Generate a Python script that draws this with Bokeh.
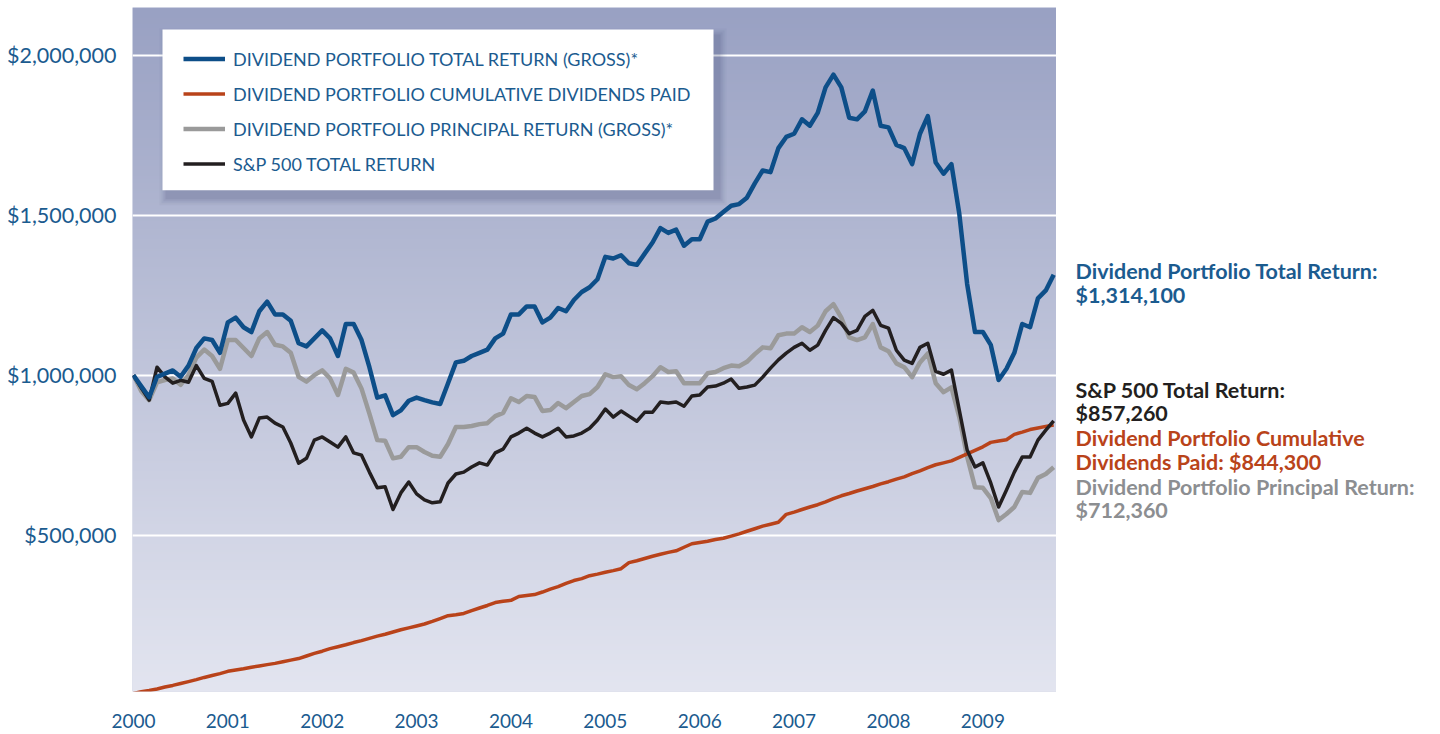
import numpy as np
from bokeh.plotting import figure
from bokeh.layouts import row
from bokeh.models import (FixedTicker, NumeralTickFormatter, Legend, LegendItem,
                          Range1d)
from bokeh.core.properties import value
from bokeh.embed import file_html
from bokeh.resources import INLINE

# ---------------- data (monthly, Jan 2000 .. Oct 2009) ----------------
START_YEAR = 2000
N_MONTHS = 118
years = [START_YEAR + i / 12 for i in range(N_MONTHS)]

total_return = [
    1000000, 965000, 931000, 995000, 1005000, 1015000, 995000, 1030000, 1085000, 1115000,
    1110000, 1070000, 1165000, 1180000, 1150000, 1135000, 1200000, 1230000, 1190000, 1190000,
    1170000, 1100000, 1090000, 1115000, 1140000, 1115000, 1060000, 1160000, 1160000, 1110000,
    1025000, 930000, 937000, 875000, 890000, 920000, 930000, 922000, 915000, 910000,
    975000, 1040000, 1045000, 1060000, 1070000, 1080000, 1115000, 1130000, 1190000, 1190000,
    1215000, 1215000, 1165000, 1180000, 1210000, 1200000, 1235000, 1260000, 1275000, 1300000,
    1370000, 1365000, 1375000, 1350000, 1345000, 1380000, 1415000, 1460000, 1445000, 1455000,
    1405000, 1425000, 1425000, 1480000, 1490000, 1510000, 1530000, 1535000, 1555000, 1600000,
    1640000, 1635000, 1710000, 1745000, 1755000, 1800000, 1780000, 1820000, 1900000, 1940000,
    1900000, 1805000, 1800000, 1825000, 1890000, 1780000, 1775000, 1720000, 1710000, 1660000,
    1755000, 1810000, 1665000, 1630000, 1660000, 1505000, 1285000, 1135000, 1135000, 1095000,
    985000, 1020000, 1070000, 1160000, 1150000, 1240000, 1265000, 1314100,
]

cumulative_dividends = [
    5000, 10000, 14000, 19000, 25000, 30000, 36000, 42000, 48000, 55000,
    61000, 67000, 74000, 78000, 82000, 87000, 91000, 95000, 99000, 104000,
    109000, 114000, 122000, 130000, 137000, 145000, 151000, 157000, 164000, 170000,
    177000, 184000, 190000, 197000, 204000, 210000, 216000, 222000, 230000, 239000,
    248000, 251000, 255000, 264000, 272000, 280000, 289000, 293000, 296000, 308000,
    311000, 314000, 322000, 331000, 339000, 349000, 358000, 364000, 373000, 378000,
    384000, 389000, 395000, 414000, 420000, 427000, 434000, 440000, 446000, 451000,
    462000, 473000, 477000, 481000, 486000, 490000, 497000, 504000, 512000, 520000,
    528000, 534000, 540000, 565000, 572000, 580000, 588000, 595000, 604000, 614000,
    623000, 630000, 638000, 645000, 652000, 660000, 667000, 675000, 682000, 692000,
    701000, 711000, 720000, 726000, 732000, 743000, 754000, 765000, 776000, 790000,
    794000, 798000, 815000, 822000, 830000, 835000, 840000, 844300,
]

principal_return = [
    1000000, 950000, 922000, 978000, 985000, 990000, 970000, 1000000, 1055000, 1080000,
    1060000, 1020000, 1110000, 1110000, 1085000, 1060000, 1115000, 1135000, 1095000, 1090000,
    1070000, 995000, 980000, 1000000, 1015000, 990000, 938000, 1020000, 1008000, 958000,
    880000, 797000, 795000, 740000, 745000, 775000, 775000, 760000, 748000, 745000,
    785000, 838000, 838000, 841000, 847000, 850000, 872000, 882000, 928000, 916000,
    935000, 932000, 888000, 891000, 913000, 897000, 916000, 935000, 941000, 963000,
    1003000, 994000, 997000, 969000, 956000, 975000, 997000, 1025000, 1010000, 1012000,
    975000, 975000, 975000, 1006000, 1010000, 1022000, 1030000, 1028000, 1042000, 1066000,
    1087000, 1084000, 1125000, 1130000, 1130000, 1150000, 1135000, 1155000, 1200000, 1222000,
    1180000, 1118000, 1110000, 1118000, 1160000, 1087000, 1075000, 1037000, 1025000, 994000,
    1040000, 1068000, 975000, 947000, 962000, 869000, 745000, 650000, 648000, 616000,
    547000, 566000, 588000, 635000, 632000, 679000, 691000, 712360,
]

sp500_total_return = [
    1000000, 960000, 922000, 1025000, 995000, 975000, 984000, 978000, 1030000, 990000,
    981000, 906000, 912000, 944000, 860000, 807000, 866000, 869000, 850000, 838000,
    788000, 725000, 740000, 797000, 807000, 791000, 775000, 807000, 757000, 750000,
    697000, 648000, 651000, 580000, 632000, 666000, 629000, 610000, 601000, 604000,
    663000, 691000, 697000, 713000, 726000, 719000, 757000, 769000, 807000, 819000,
    834000, 819000, 807000, 819000, 834000, 807000, 810000, 819000, 834000, 860000,
    894000, 869000, 888000, 872000, 856000, 884000, 884000, 916000, 913000, 916000,
    903000, 935000, 938000, 963000, 966000, 975000, 988000, 959000, 963000, 969000,
    994000, 1022000, 1048000, 1069000, 1087000, 1100000, 1078000, 1094000, 1140000, 1180000,
    1162000, 1130000, 1140000, 1184000, 1203000, 1156000, 1147000, 1078000, 1047000, 1037000,
    1087000, 1100000, 1012000, 1003000, 1016000, 891000, 766000, 713000, 726000, 663000,
    588000, 641000, 697000, 744000, 744000, 797000, 828000, 857260,
]

year_ticks = list(range(2000, 2010))
value_ticks = [500000, 1000000, 1500000, 2000000]

legend_labels = [
    "DIVIDEND PORTFOLIO TOTAL RETURN (GROSS)*",
    "DIVIDEND PORTFOLIO CUMULATIVE DIVIDENDS PAID",
    "DIVIDEND PORTFOLIO PRINCIPAL RETURN (GROSS)*",
    "S&P 500 TOTAL RETURN",
]

note_lines = [
    "Dividend Portfolio Total Return:", "$1,314,100",
    "S&P 500 Total Return:", "$857,260",
    "Dividend Portfolio Cumulative", "Dividends Paid: $844,300",
    "Dividend Portfolio Principal Return:", "$712,360",
]

# ---------------- styling ----------------
BLUE = "#0d4e88"
ORANGE = "#b9431a"
GRAY = "#9a9a9a"
BLACK = "#231f20"
TEXT_BLUE = "#1b5b8f"
NOTE_COLORS = ["#1b5b8f", "#1b5b8f", "#231f20", "#231f20",
               "#b9431a", "#b9431a", "#8c8e91", "#8c8e91"]
NOTE_ROWS_PX = [271, 295, 390, 413, 438, 462, 487, 510]  # screen rows of the notes
FONT = "Lato"

FRAME_L, FRAME_T, FRAME_W, FRAME_H = 132, 7, 924, 685
FIG_H = 730
X0, X1 = 1999.99, 2009.78
Y0, Y1 = 11000, 2149700

yr = Range1d(Y0, Y1)
p = figure(width=FRAME_L + FRAME_W, height=FIG_H, output_backend="svg",
           toolbar_location=None, x_range=Range1d(X0, X1), y_range=yr,
           min_border_left=FRAME_L, min_border_right=0, min_border_top=FRAME_T,
           min_border_bottom=FIG_H - FRAME_T - FRAME_H)
p.outline_line_color = None
p.background_fill_color = "#c0c5db"
p.border_fill_color = "white"

# vertical gradient background
top_c = np.array([0x99, 0xa1, 0xc3])
bot_c = np.array([0xe3, 0xe5, 0xf0])
n = 343
t = np.linspace(0, 1, n)[:, None]  # row 0 = bottom
cols = (bot_c * (1 - t) + top_c * t).astype(np.uint32)
img = np.empty((n, 1), dtype=np.uint32)
view = img.view(dtype=np.uint8).reshape((n, 1, 4))
view[:, 0, 0] = cols[:, 0]
view[:, 0, 1] = cols[:, 1]
view[:, 0, 2] = cols[:, 2]
view[:, 0, 3] = 255
p.image_rgba(image=[img], x=X0, y=Y0, dw=X1 - X0, dh=Y1 - Y0, level="image")

# grid
p.xgrid.grid_line_color = None
p.ygrid.grid_line_color = "white"
p.ygrid.grid_line_width = 2
p.ygrid.ticker = FixedTicker(ticks=value_ticks)

# axes
for ax in (p.xaxis, p.yaxis):
    ax.axis_line_color = None
    ax.major_tick_line_color = None
    ax.minor_tick_line_color = None
    ax.major_label_text_font = FONT
    ax.major_label_text_color = TEXT_BLUE
p.xaxis.major_label_text_font_size = "19px"
p.yaxis.major_label_text_font_size = "21.5px"
p.xaxis.ticker = FixedTicker(ticks=year_ticks)
p.xaxis.formatter = NumeralTickFormatter(format="0")
p.xaxis.major_label_standoff = 16
p.yaxis.ticker = FixedTicker(ticks=value_ticks)
p.yaxis.formatter = NumeralTickFormatter(format="$0,0")
p.yaxis.major_label_standoff = 10


def px_to_x(px):
    return X0 + (px - FRAME_L) * (X1 - X0) / FRAME_W


def py_to_y(py):
    return Y1 - (py - FRAME_T) * (Y1 - Y0) / FRAME_H


# legend box with soft shadow
for k, a in enumerate([0.04, 0.06, 0.08, 0.10]):
    g = 8 - 2 * k
    p.quad(left=px_to_x(162 - g + 5), right=px_to_x(713 + g + 5),
           top=py_to_y(29 - g + 7), bottom=py_to_y(190 + g + 7),
           fill_color="#3a4270", fill_alpha=a, line_color=None)
p.quad(left=px_to_x(162), right=px_to_x(713), top=py_to_y(29), bottom=py_to_y(190),
       fill_color="white", line_color=None)

# series
r_gray = p.line(years, principal_return, line_color=GRAY, line_width=4.5, line_join="round")
r_orange = p.line(years, cumulative_dividends, line_color=ORANGE, line_width=3.5, line_join="round")
r_black = p.line(years, sp500_total_return, line_color=BLACK, line_width=3.5, line_join="round")
r_blue = p.line(years, total_return, line_color=BLUE, line_width=4.5, line_join="round")

legend = Legend(items=[
    LegendItem(label=legend_labels[0], renderers=[r_blue]),
    LegendItem(label=legend_labels[1], renderers=[r_orange]),
    LegendItem(label=legend_labels[2], renderers=[r_gray]),
    LegendItem(label=legend_labels[3], renderers=[r_black]),
], location=(51, FRAME_H - 35 - 140), orientation="vertical",
    background_fill_alpha=0, border_line_color=None, padding=0, margin=0,
    spacing=0, glyph_width=42, glyph_height=35, label_height=35,
    label_standoff=8, label_text_font=FONT, label_text_font_size="18px",
    label_text_color=TEXT_BLUE)
p.add_layout(legend)

# end notes in a side panel sharing the y scale
NOTE_W = 384
q = figure(width=NOTE_W, height=FIG_H, output_backend="svg", toolbar_location=None,
           x_range=Range1d(0, NOTE_W), y_range=yr,
           min_border_left=0, min_border_right=0, min_border_top=FRAME_T,
           min_border_bottom=FIG_H - FRAME_T - FRAME_H)
q.axis.visible = False
q.grid.visible = False
q.outline_line_color = None
q.background_fill_color = "white"
q.text(x=[19] * len(note_lines), y=[py_to_y(v) for v in NOTE_ROWS_PX], text=note_lines,
       text_color=NOTE_COLORS, text_font=value(FONT), text_font_size="21.5px",
       text_font_style="bold", text_baseline="middle", text_align="left")

layout = row(p, q, spacing=0)
open("out.html", "w").write(file_html(layout, INLINE))
